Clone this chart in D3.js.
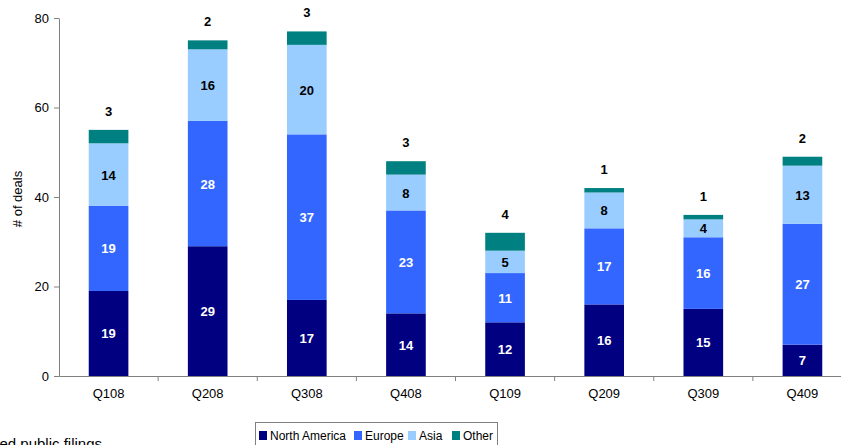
<!DOCTYPE html>
<html>
<head>
<meta charset="utf-8">
<script src="https://cdn.jsdelivr.net/npm/d3@7"></script>
<style>
  body { margin: 0; background: #fff; }
  svg { display: block; font-family: "Liberation Sans", Arial, sans-serif; }
</style>
</head>
<body>
<div id="chart"></div>
<script>
'use strict';

// quarters on the x axis
var quarters = ['Q108', 'Q208', 'Q308', 'Q408', 'Q109', 'Q209', 'Q309', 'Q409'];

// deals per region, one value per quarter
var northAmerica = [19, 29, 17, 14, 12, 16, 15, 7];
var europe       = [19, 28, 37, 23, 11, 17, 16, 27];
var asia         = [14, 16, 20, 8, 5, 8, 4, 13];
var other        = [3, 2, 3, 3, 4, 1, 1, 2];

var regionNames = ['North America', 'Europe', 'Asia', 'Other'];
var yTicks = [0, 20, 40, 60, 80];

var width = 841, height = 445;
var colors = ['#000080', '#3366FF', '#99CCFF', '#008080'];
var labelColors = ['#fff', '#fff', '#000', '#000'];

var svg = d3.select('#chart').append('svg')
    .attr('width', width)
    .attr('height', height);

var x = d3.scaleBand()
    .domain(quarters)
    .range([59, 852])
    .paddingInner(0.6)
    .paddingOuter(0.3);

var y = d3.scaleLinear()
    .domain([0, 80])
    .range([376, 18]);

// build the table for the stack
var table = quarters.map(function(q, i) {
    return {
        quarter: q,
        'North America': northAmerica[i],
        'Europe': europe[i],
        'Asia': asia[i],
        'Other': other[i]
    };
});

var series = d3.stack().keys(regionNames)(table);

//draw the bars
var groups = svg.append('g')
    .selectAll('g')
    .data(series)
    .enter().append('g')
    .attr('fill', function(d, i) { return colors[i]; });

groups.selectAll('rect')
    .data(function(d) { return d; })
    .enter().append('rect')
    .attr('x', function(d) { return x(d.data.quarter); })
    .attr('y', function(d) { return y(d[1]); })
    .attr('width', x.bandwidth())
    .attr('height', function(d) { return y(d[0]) - y(d[1]); });

//segment labels, "Other" sits above the bar
series.forEach(function(s, i) {
    svg.append('g')
        .selectAll('text')
        .data(s)
        .enter().append('text')
        .attr('x', function(d) { return x(d.data.quarter) + x.bandwidth() / 2; })
        .attr('y', function(d) {
            if (i === 3) { return y(d[1]) - 14; }
            return (y(d[0]) + y(d[1])) / 2 + 5;
        })
        .attr('text-anchor', 'middle')
        .attr('font-size', '13px')
        .attr('font-weight', 'bold')
        .attr('fill', labelColors[i])
        .text(function(d) { return d[1] - d[0]; });
});

//axes
var yAxis = svg.append('g')
    .attr('transform', 'translate(59,0)')
    .call(d3.axisLeft(y).tickValues(yTicks).tickSize(5).tickSizeOuter(0));

var xAxis = svg.append('g')
    .attr('transform', 'translate(0,376)')
    .call(d3.axisBottom(x).tickSize(0).tickPadding(13));

// tick marks between categories
svg.append('g')
    .selectAll('line')
    .data(quarters.slice(1))
    .enter().append('line')
    .attr('x1', function(q) { return x(q) - x.step() * x.paddingInner() / 2; })
    .attr('x2', function(q) { return x(q) - x.step() * x.paddingInner() / 2; })
    .attr('y1', 376)
    .attr('y2', 381)
    .attr('stroke', '#808080');

[yAxis, xAxis].forEach(function(a) {
    a.selectAll('path, line').attr('stroke', '#808080');
    a.selectAll('text')
        .attr('font-size', '13px')
        .attr('fill', '#000')
        .attr('font-family', '"Liberation Sans", Arial, sans-serif');
});
yAxis.selectAll('text').attr('dx', '-2');

svg.append('text')
    .attr('transform', 'translate(22,199) rotate(-90)')
    .attr('text-anchor', 'middle')
    .attr('font-size', '13px')
    .text('# of deals');

// source note, clipped by the page edge like the original
svg.append('text')
    .attr('x', 102)
    .attr('y', 449)
    .attr('text-anchor', 'end')
    .attr('font-size', '15px')
    .text('Source: Announced and reported public filings');

//legend
var legend = svg.append('g');
legend.append('rect')
    .attr('x', 255.5)
    .attr('y', 422.5)
    .attr('width', 242)
    .attr('height', 30)
    .attr('fill', '#fff')
    .attr('stroke', '#808080');

var legendX = [259, 354, 408, 452];
regionNames.forEach(function(name, i) {
    legend.append('rect')
        .attr('x', legendX[i])
        .attr('y', 431)
        .attr('width', 8)
        .attr('height', 9)
        .attr('fill', colors[i]);
    legend.append('text')
        .attr('x', legendX[i] + 11)
        .attr('y', 439.5)
        .attr('font-size', '12px')
        .text(name);
});
</script>
</body>
</html>
